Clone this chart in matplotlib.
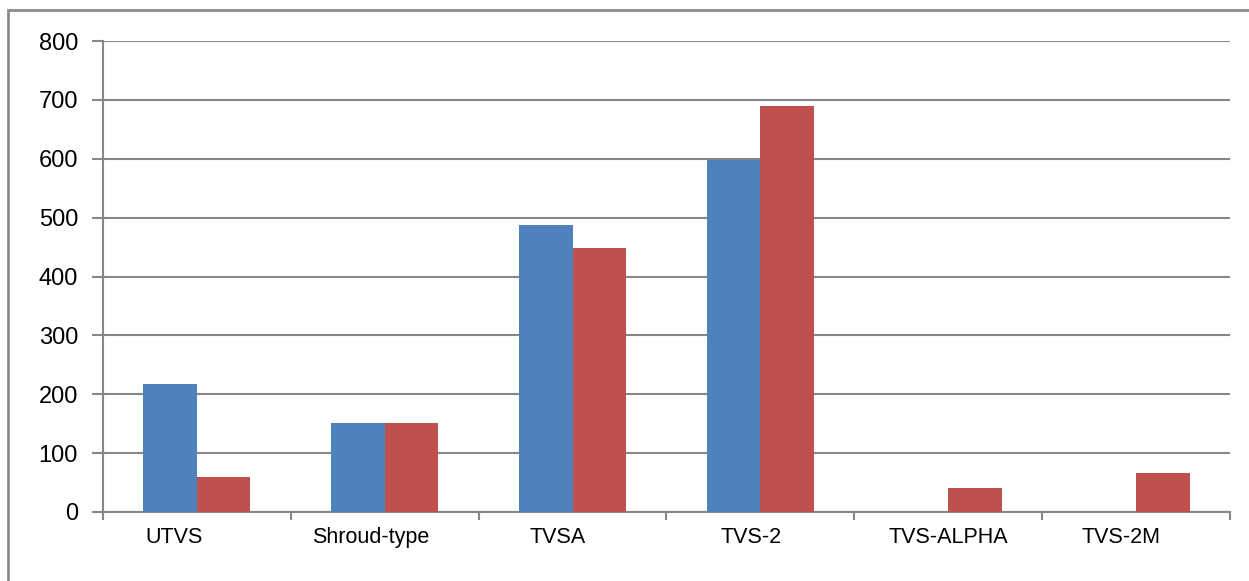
import numpy as np
import matplotlib.pyplot as plt
import matplotlib.transforms as mtransforms
from matplotlib.patches import Rectangle

categories = ['UTVS', 'Shroud-type', 'TVSA', 'TVS-2', 'TVS-ALPHA', 'TVS-2M']
series_blue = [218, 151, 488, 598, 0, 0]
series_red = [60, 151, 448, 689, 41, 66]
y_ticks = [0, 100, 200, 300, 400, 500, 600, 700, 800]

# small horizontal nudges (pixels) of the category labels, as in the original
label_shift = [-23, -14, -15, -9, 0, -15]

plt.rcParams['font.family'] = ['Liberation Sans', 'DejaVu Sans']

fig = plt.figure(figsize=(12.49, 5.81), dpi=100)
ax = fig.add_axes([103/1249, 1 - 512/581, (1230-103)/1249, (512-41)/581])

# outer chart frame, cut off at the right and bottom like the original
fig.patches.append(Rectangle((8/1249, -0.1), 1.2, 1 - 10/581 + 0.1,
                             transform=fig.transFigure, fill=False,
                             edgecolor='#8c8c8c', linewidth=2))

x = np.arange(len(categories))
w = 0.285
ax.bar(x - w/2, series_blue, w, color='#4F81BD', zorder=3)
ax.bar(x + w/2, series_red, w, color='#C0504D', zorder=3)

ax.set_xlim(-0.5, len(categories) - 0.5)
ax.set_ylim(0, 800)
ax.set_yticks(y_ticks)
ax.set_yticklabels([str(t) for t in y_ticks], fontsize=17)
ax.yaxis.grid(True, color='#878787', linewidth=1.5, zorder=0)

ax.set_xticks(x)
ax.set_xticklabels(categories, fontsize=15.5)
ax.tick_params(axis='x', length=0, pad=11)
ax.set_xticks(np.arange(len(categories) + 1) - 0.5, minor=True)
ax.tick_params(axis='x', which='minor', length=6, color='#878787', width=1.5)
ax.tick_params(axis='y', length=8, color='#878787', width=1.5, pad=10)

for lbl, dx in zip(ax.get_xticklabels(), label_shift):
    lbl.set_transform(lbl.get_transform() +
                      mtransforms.ScaledTranslation(dx/100, 0, fig.dpi_scale_trans))

for s in ['top', 'right']:
    ax.spines[s].set_visible(False)
for s in ['left', 'bottom']:
    ax.spines[s].set_color('#878787')
    ax.spines[s].set_linewidth(1.5)

fig.savefig('out.png', dpi=100)
